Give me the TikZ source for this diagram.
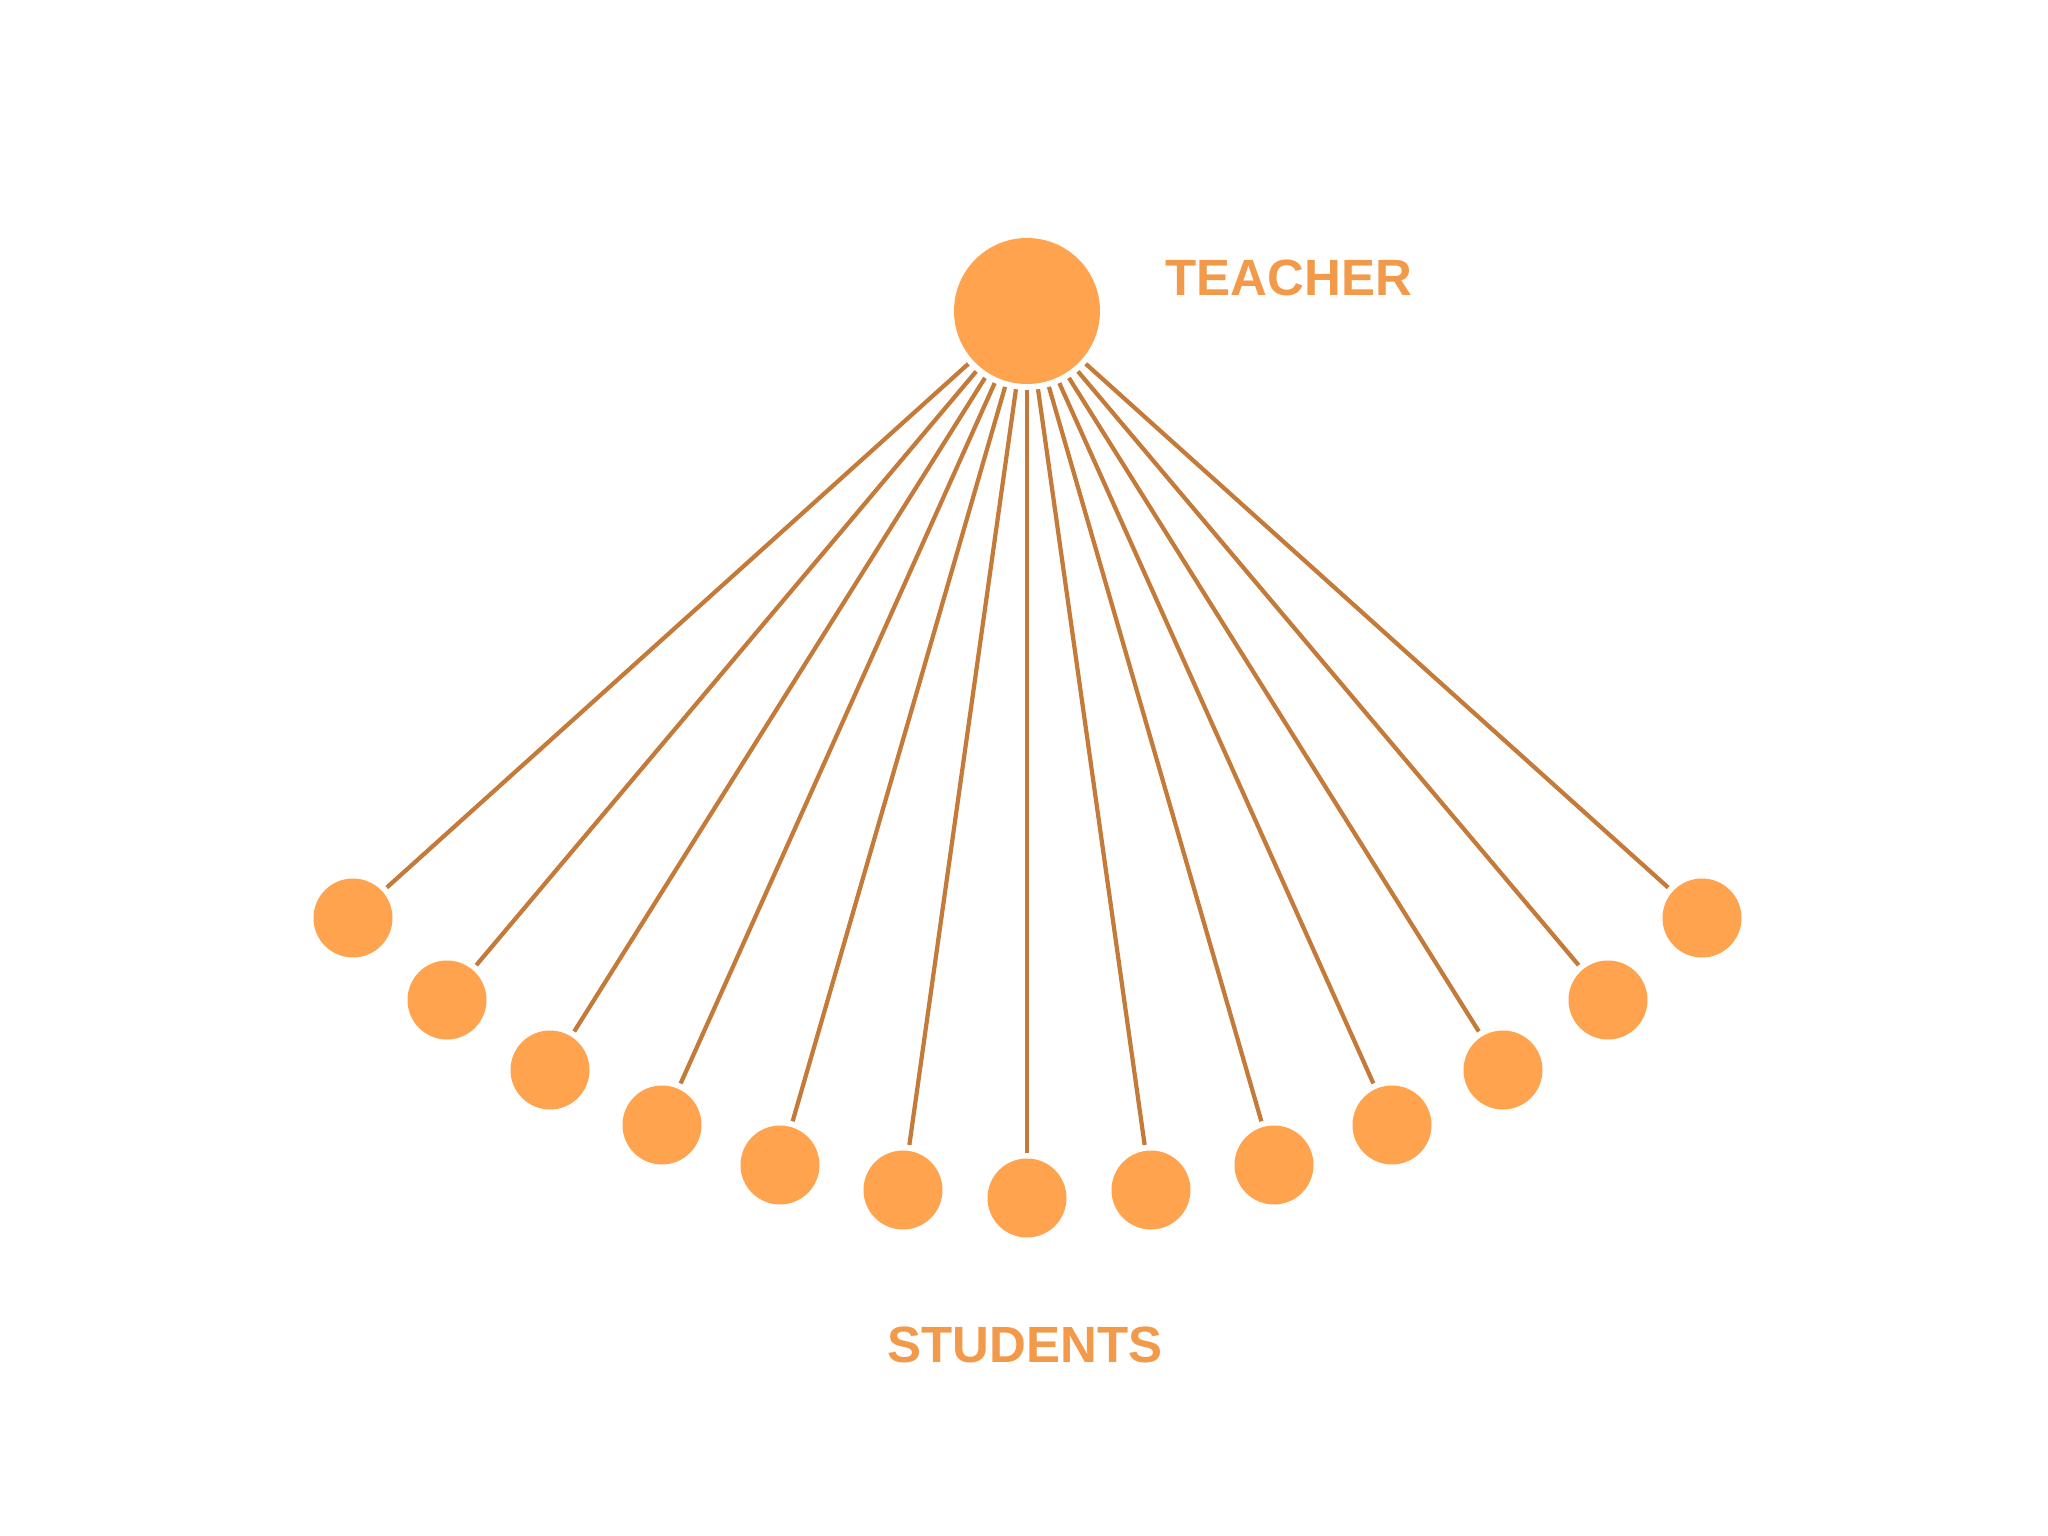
\documentclass[tikz,border=0pt]{standalone}
\usepackage{fontspec}
\setmainfont{Liberation Sans}
\usepackage{tikz}
\usetikzlibrary{positioning}
\definecolor{dotorange}{HTML}{FFA34E}
\definecolor{wireorange}{HTML}{C47A38}
\definecolor{textorange}{HTML}{F39A4A}
\tikzstyle{teacher} = [circle, fill=dotorange, minimum size=1.46cm, inner sep=0pt, outer sep=0.06cm]
\tikzstyle{student} = [circle, fill=dotorange, minimum size=0.79cm, inner sep=0pt, outer sep=0.06cm]
\tikzstyle{wire} = [color=wireorange, line width=1.2pt]
\tikzstyle{label} = [text=textorange, font=\fontsize{14.5}{17}\selectfont\bfseries]

\begin{document}
\begin{tikzpicture}
\useasboundingbox[fill=white] (0,0) rectangle (20.48,-15.36);
\node[teacher] (t) at (10.27,-3.11) {};
\node[label] (tlabel) at (12.89,-2.78) {TEACHER};
\node[student] (s1) at (3.53,-9.18) {};
\node[student] (s2) at (4.47,-10.00) {};
\node[student] (s3) at (5.50,-10.70) {};
\node[student] (s4) at (6.62,-11.25) {};
\node[student] (s5) at (7.80,-11.65) {};
\node[student] (s6) at (9.03,-11.90) {};
\node[student] (s7) at (10.27,-11.98) {};
\node[student] (s8) at (11.51,-11.90) {};
\node[student] (s9) at (12.74,-11.65) {};
\node[student] (s10) at (13.92,-11.25) {};
\node[student] (s11) at (15.03,-10.70) {};
\node[student] (s12) at (16.08,-10.00) {};
\node[student] (s13) at (17.02,-9.18) {};
\node[label] (slabel) at (10.25,-13.45) {STUDENTS};
\draw[wire] (t) -- (s1);
\draw[wire] (t) -- (s2);
\draw[wire] (t) -- (s3);
\draw[wire] (t) -- (s4);
\draw[wire] (t) -- (s5);
\draw[wire] (t) -- (s6);
\draw[wire] (t) -- (s7);
\draw[wire] (t) -- (s8);
\draw[wire] (t) -- (s9);
\draw[wire] (t) -- (s10);
\draw[wire] (t) -- (s11);
\draw[wire] (t) -- (s12);
\draw[wire] (t) -- (s13);
\end{tikzpicture}
\end{document}
